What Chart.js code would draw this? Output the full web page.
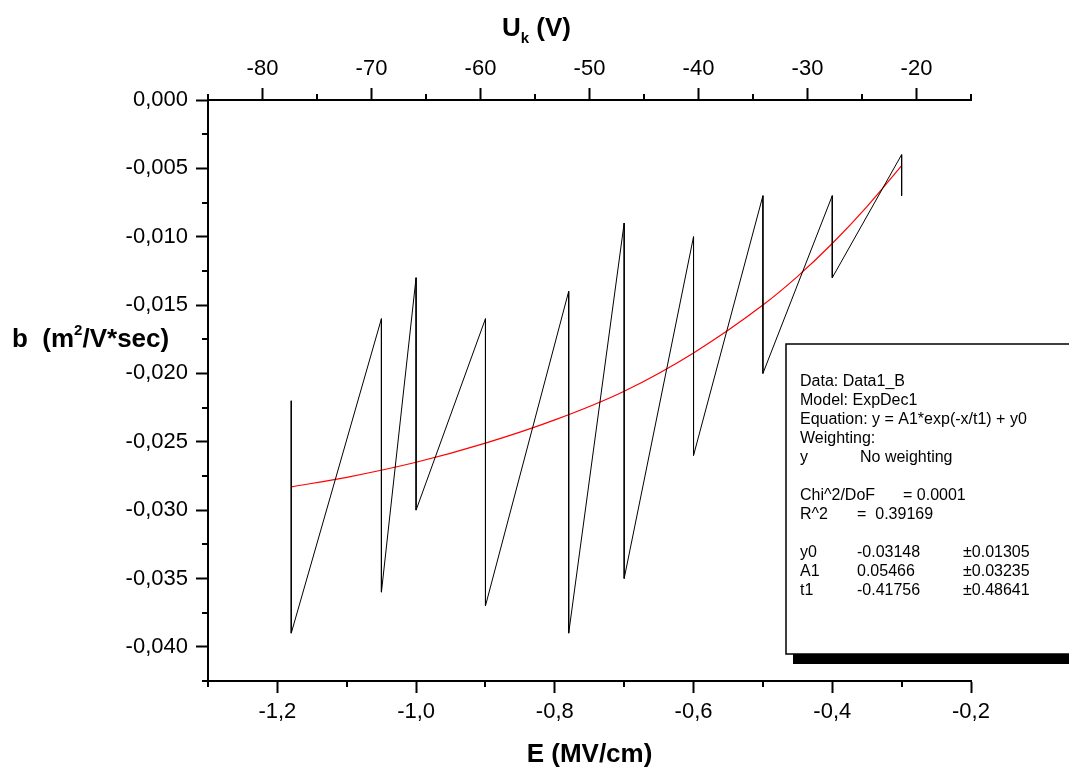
<!DOCTYPE html>
<html>
<head>
<meta charset="utf-8">
<script src="https://cdn.jsdelivr.net/npm/chart.js@4.4.0/dist/chart.umd.min.js"></script>
<style>
  html, body { margin: 0; padding: 0; background: #fff; }
  #wrap { width: 1069px; height: 772px; }
</style>
</head>
<body>
<div id="wrap"><canvas id="mobilityChart" width="1069" height="772"></canvas></div>
<script>
// measured points: E (MV/cm) and b (m2/V*sec)
var eField   = [-1.18, -1.18, -1.05, -1.05, -1.0, -1.0, -0.9, -0.9, -0.78, -0.78, -0.7, -0.7, -0.6, -0.6, -0.5, -0.5, -0.4, -0.4, -0.3, -0.3];
var mobility = [-0.022, -0.039, -0.016, -0.036, -0.013, -0.030, -0.016, -0.037, -0.014, -0.039, -0.009, -0.035, -0.010, -0.026, -0.007, -0.020, -0.007, -0.013, -0.004, -0.007];

// ExpDec1 fit curve (red)
var fitE = [-1.18, -1.1, -1.0, -0.9, -0.8, -0.7, -0.6, -0.5, -0.45, -0.4, -0.35, -0.3];
var fitB = [-0.0283, -0.0276, -0.0265, -0.0251, -0.0234, -0.0213, -0.0185, -0.0150, -0.0129, -0.0105, -0.0078, -0.0048];

// tick labels
var eTicks = [-1.2, -1.0, -0.8, -0.6, -0.4, -0.2];
var uTicks = [-80, -70, -60, -50, -40, -30, -20];
var bTicks = [0, -0.005, -0.010, -0.015, -0.020, -0.025, -0.030, -0.035, -0.040];

// fit report text
var fitInfo = ['Data: Data1_B', 'Model: ExpDec1', 'Equation: y = A1*exp(-x/t1) + y0', 'Weighting:'];
var fitParams = ['y0', 'A1', 't1'];
var fitValues = ['-0.03148', '0.05466', '-0.41756'];
var fitErrors = ['\u00b10.01305', '\u00b10.03235', '\u00b10.48641'];

var FONT = '"Liberation Sans", Arial, sans-serif';
Chart.defaults.font.family = FONT;
Chart.defaults.color = '#000';

function toPoints(xs, ys) {
  return xs.map(function (x, i) { return { x: x, y: ys[i] }; });
}

// minor ticks halfway between the major ones
function minorTicks(majors, half, min, max) {
  var out = [];
  majors.forEach(function (m) {
    [m - half, m + half].forEach(function (v) {
      if (v >= min - 1e-9 && v <= max + 1e-9 && out.indexOf(+v.toFixed(6)) < 0) out.push(+v.toFixed(6));
    });
  });
  return out;
}

var extrasPlugin = {
  id: 'extras',
  afterDraw: function (chart) {
    var ctx = chart.ctx, a = chart.chartArea;
    var xs = chart.scales.x, x2 = chart.scales.x2, ys = chart.scales.y;
    ctx.save();

    // minor ticks
    ctx.strokeStyle = '#000';
    ctx.lineWidth = 2;
    ctx.beginPath();
    minorTicks(eTicks, 0.1, xs.min, xs.max).forEach(function (v) {
      var px = Math.round(xs.getPixelForValue(v));
      ctx.moveTo(px, a.bottom); ctx.lineTo(px, a.bottom + 6);
    });
    minorTicks(uTicks, 5, x2.min, x2.max).forEach(function (v) {
      var px = Math.round(x2.getPixelForValue(v));
      ctx.moveTo(px, a.top); ctx.lineTo(px, a.top - 6);
    });
    minorTicks(bTicks, 0.0025, ys.min, ys.max).forEach(function (v) {
      var py = Math.round(ys.getPixelForValue(v));
      ctx.moveTo(a.left, py); ctx.lineTo(a.left - 6, py);
    });
    ctx.stroke();

    // axis titles
    ctx.fillStyle = '#000';
    ctx.textBaseline = 'alphabetic';
    ctx.textAlign = 'left';
    var big = 'bold 26px ' + FONT, small = 'bold 15px ' + FONT;

    ctx.font = big;
    var t = 'E (MV/cm)';
    ctx.fillText(t, (a.left + a.right) / 2 - ctx.measureText(t).width / 2, 762);

    var x = 502;
    ctx.fillText('U', x, 36); x += ctx.measureText('U').width;
    ctx.font = small; ctx.fillText('k', x, 43); x += ctx.measureText('k').width;
    ctx.font = big; ctx.fillText(' (V)', x, 36);

    x = 12;
    ctx.fillText('b  (m', x, 347); x += ctx.measureText('b  (m').width;
    ctx.font = small; ctx.fillText('2', x, 335); x += ctx.measureText('2').width;
    ctx.font = big; ctx.fillText('/V*sec)', x, 347);

    // fit report box
    ctx.fillStyle = '#000';
    ctx.fillRect(793, 654, 290, 10);
    ctx.fillStyle = '#fff';
    ctx.fillRect(786, 344, 290, 310);
    ctx.strokeStyle = '#000';
    ctx.lineWidth = 1.5;
    ctx.strokeRect(786, 344, 290, 310);

    ctx.fillStyle = '#000';
    ctx.font = '16px ' + FONT;
    var lh = 19, y0 = 386;
    fitInfo.forEach(function (s, i) { ctx.fillText(s, 800, y0 + i * lh); });
    ctx.fillText('y', 800, y0 + 4 * lh);
    ctx.fillText('No weighting', 860, y0 + 4 * lh);
    ctx.fillText('Chi^2/DoF', 800, y0 + 6 * lh);
    ctx.fillText('= 0.0001', 903, y0 + 6 * lh);
    ctx.fillText('R^2', 800, y0 + 7 * lh);
    ctx.fillText('=  0.39169', 857, y0 + 7 * lh);
    fitParams.forEach(function (p, i) {
      var yy = y0 + (9 + i) * lh;
      ctx.fillText(p, 800, yy);
      ctx.fillText(fitValues[i], 857, yy);
      ctx.fillText(fitErrors[i], 963, yy);
    });
    ctx.restore();
  }
};

var axisLook = {
  border: { display: true, color: '#000', width: 2 },
  grid: { drawOnChartArea: false, drawTicks: true, tickLength: 12, tickWidth: 2, tickColor: '#000' }
};

var ctx = document.getElementById('mobilityChart').getContext('2d');
var mobilityChart = new Chart(ctx, {
  type: 'scatter',
  data: {
    datasets: [{
      label: 'Data1_B',
      data: toPoints(eField, mobility),
      showLine: true,
      borderColor: '#000',
      borderWidth: 1,
      pointRadius: 0,
      tension: 0
    }, {
      label: 'ExpDec1 fit',
      data: toPoints(fitE, fitB),
      showLine: true,
      borderColor: '#ff0000',
      borderWidth: 1.2,
      pointRadius: 0,
      cubicInterpolationMode: 'monotone'
    }]
  },
  options: {
    responsive: false,
    animation: false,
    devicePixelRatio: 1,
    layout: { padding: { left: 0, right: 98, top: 0, bottom: 0 } },
    plugins: {
      legend: { display: false },
      tooltip: { enabled: false }
    },
    scales: {
      x: Object.assign({
        type: 'linear', position: 'bottom', min: -1.3, max: -0.2,
        afterBuildTicks: function (s) { s.ticks = eTicks.map(function (v) { return { value: v }; }); },
        afterFit: function (s) { s.height = 91; },
        ticks: {
          font: { size: 22 }, padding: 6, maxRotation: 0,
          callback: function (v) { return v.toFixed(1).replace('.', ','); }
        }
      }, axisLook),
      x2: Object.assign({
        type: 'linear', position: 'top', min: -85, max: -15,
        afterBuildTicks: function (s) { s.ticks = uTicks.map(function (v) { return { value: v }; }); },
        afterFit: function (s) { s.height = 100; },
        ticks: {
          font: { size: 22 }, padding: 6, maxRotation: 0,
          callback: function (v) { return String(v); }
        }
      }, axisLook),
      y: Object.assign({
        type: 'linear', position: 'left', min: -0.0425, max: 0,
        afterBuildTicks: function (s) { s.ticks = bTicks.map(function (v) { return { value: v }; }); },
        afterFit: function (s) { s.width = 208; },
        ticks: {
          font: { size: 22 }, padding: 8,
          callback: function (v) { return v.toFixed(3).replace('.', ','); }
        }
      }, axisLook)
    }
  },
  plugins: [extrasPlugin]
});
</script>
</body>
</html>
